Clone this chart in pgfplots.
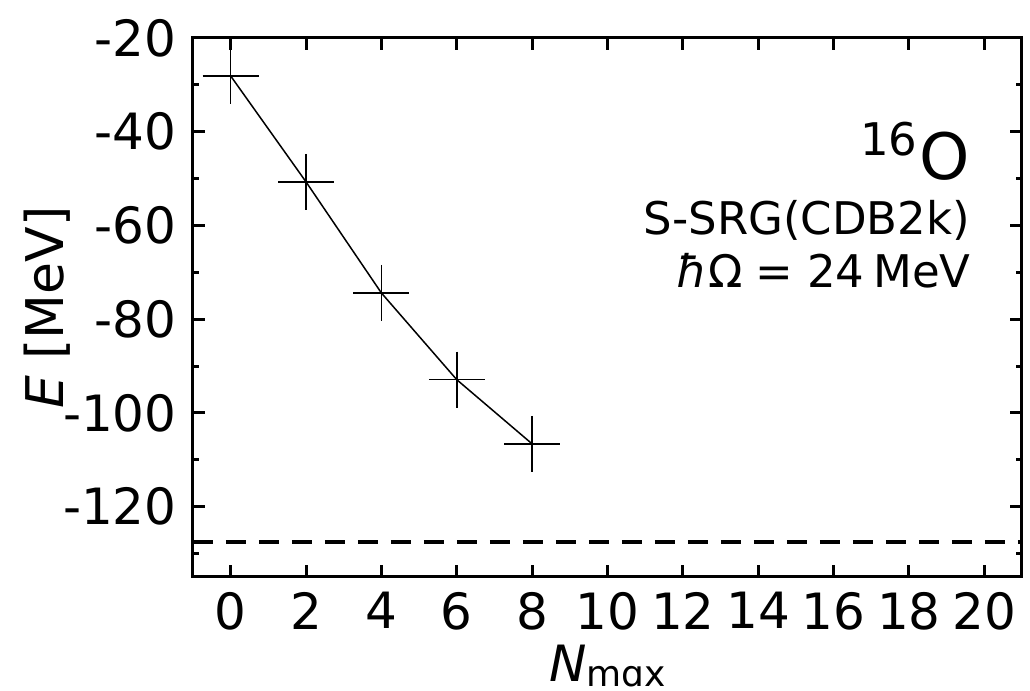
\documentclass[border=0pt]{standalone}
\usepackage{pgfplots}
\pgfplotsset{compat=1.18}
\usepackage{fontspec}
\setmainfont{DejaVu Sans}
\begin{document}
\begin{tikzpicture}
\useasboundingbox (-96.5pt,-57pt) rectangle (418.5pt,288.5pt);
\begin{axis}[
  at={(0,0)}, anchor=south west,
  scale only axis, width=414.5pt, height=269.5pt,
  xmin=-1, xmax=21, ymin=-135, ymax=-20,
  xtick={0,2,...,20}, ytick={-120,-100,...,-20},
  minor ytick={-130,-110,...,-30},
  tick align=inside,
  major tick length=6pt, minor tick length=3pt,
  axis line style={line width=1.5pt},
  every tick/.style={line width=1.5pt, black},
  /pgf/number format/assume math mode=true,
  ticklabel style={font=\fontsize{25}{30}\selectfont, inner sep=0pt},
  xticklabel style={anchor=north, yshift=-7.5pt},
  yticklabel style={anchor=east, xshift=-8pt},
  clip=false,
]
\addplot[black, line width=0.75pt, mark=+, mark size=14pt, mark options={line width=0.75pt}]
  coordinates {(0,-28.1) (2,-50.7) (4,-74.4) (6,-92.9) (8,-106.6)};
\addplot[black, line width=2pt, dash pattern=on 10pt off 6.5pt]
  coordinates {(-1,-127.5) (21,-127.5)};
\node[anchor=base east, inner sep=0pt] at (axis cs:19.63,-50.1)
  {\fontsize{22.5}{27}\selectfont\raisebox{12pt}{16}\hspace{1pt}\fontsize{32}{38}\selectfont O};
\node[anchor=base east, inner sep=0pt] at (axis cs:19.63,-62.0)
  {\fontsize{22.5}{27}\selectfont S-SRG(CDB2k)};
\node[anchor=base east, inner sep=0pt] at (axis cs:19.65,-73.3)
  {\fontsize{22.5}{27}\selectfont{\itshape ħ}Ω\hspace{0.3em}=\hspace{0.3em}24\hspace{0.2em}MeV};
\end{axis}
\node[anchor=base, inner sep=0pt] at (207.25pt,-52.5pt)
  {{\fontsize{25}{30}\selectfont\itshape N}\smash{\raisebox{-2.5pt}{\fontsize{18}{20}\selectfont mɑx}}};
\node[rotate=90, anchor=base, inner sep=0pt] at (-64.5pt,134.75pt)
  {\fontsize{26}{30}\selectfont{\itshape E} [MeV]};
\end{tikzpicture}
\end{document}
